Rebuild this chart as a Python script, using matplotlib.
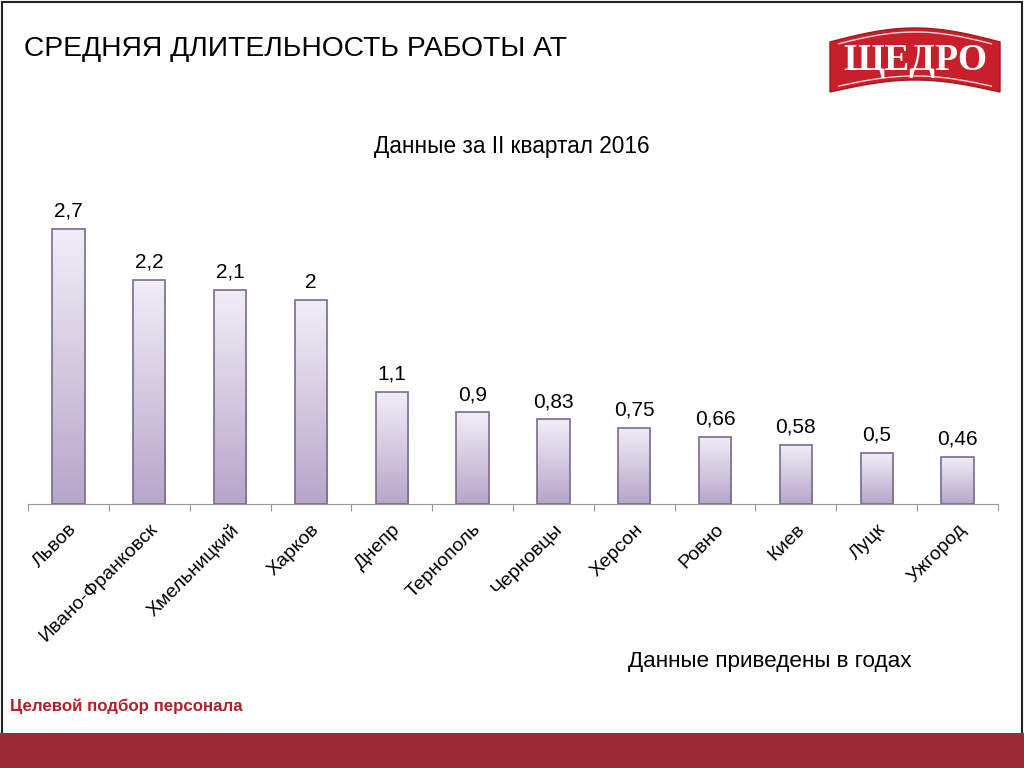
import numpy as np
import matplotlib.pyplot as plt
from matplotlib.patches import Rectangle, Polygon
from matplotlib.colors import LinearSegmentedColormap

plt.rcParams['font.family'] = ['Liberation Sans', 'DejaVu Sans']

cities = ['Львов', 'Ивано-Франковск', 'Хмельницкий', 'Харков', 'Днепр', 'Тернополь',
          'Черновцы', 'Херсон', 'Ровно', 'Киев', 'Луцк', 'Ужгород']
values = [2.7, 2.2, 2.1, 2.0, 1.1, 0.9, 0.83, 0.75, 0.66, 0.58, 0.5, 0.46]
labels = ['2,7', '2,2', '2,1', '2', '1,1', '0,9', '0,83', '0,75', '0,66', '0,58', '0,5', '0,46']

fig = plt.figure(figsize=(10.24, 7.68), dpi=100)
fig.patch.set_facecolor('white')

# slide frame and bottom band
fig.add_artist(Rectangle((0.002, 0.0), 0.996, 0.998, transform=fig.transFigure,
                         fill=False, edgecolor='#222222', linewidth=1.5))
fig.add_artist(Rectangle((0, 0), 1, 35 / 768, transform=fig.transFigure,
                         facecolor='#9c2935', edgecolor='none'))

fig.text(24 / 1024, 1 - 49 / 768, 'СРЕДНЯЯ ДЛИТЕЛЬНОСТЬ РАБОТЫ АТ', fontsize=20.3,
         va='center', ha='left', color='black')
fig.text(512 / 1024, 1 - 147 / 768, 'Данные за II квартал 2016', fontsize=16.3,
         va='center', ha='center')
fig.text(770 / 1024, 1 - 662 / 768, 'Данные приведены в годах', fontsize=16.2,
         va='center', ha='center')
fig.text(10 / 1024, 1 - 706 / 768, 'Целевой подбор персонала', fontsize=12.2,
         fontweight='bold', color='#b3202a', va='center', ha='left')

# logo
t = np.linspace(0, 1, 60)
lx0, lx1 = 830 / 1024, 1000 / 1024
xs = lx0 + (lx1 - lx0) * t
top = 1 - (42 - 14 * np.sin(np.pi * t)) / 768
bot = 1 - (92 - 12 * np.sin(np.pi * t)) / 768
fig.add_artist(Polygon(np.column_stack([np.r_[xs, xs[::-1]], np.r_[top, bot[::-1]]]),
                       closed=True, transform=fig.transFigure, facecolor='#c8202b',
                       edgecolor='#a01820', linewidth=1))
fig.add_artist(plt.Line2D(xs[3:-3], top[3:-3] - 4 / 768, transform=fig.transFigure,
                          color='#f3d6d6', linewidth=1))
fig.add_artist(plt.Line2D(xs[3:-3], bot[3:-3] + 4 / 768, transform=fig.transFigure,
                          color='#f3d6d6', linewidth=1))
fig.text(915 / 1024, 1 - 60 / 768, 'ЩЕДРО', fontsize=27, fontweight='bold',
         family='Liberation Serif', color='white', ha='center', va='center')

ax = fig.add_axes([28 / 1024, 264 / 768, 970 / 1024, 306 / 768])

cmap = LinearSegmentedColormap.from_list('g', ['#b6a6ca', '#f1eef6'])
grad = np.linspace(0, 1, 256).reshape(-1, 1)
bars = ax.bar(range(len(cities)), values, width=0.4, color='none',
              edgecolor='#7b6a93', linewidth=1.2, zorder=3)
for b in bars:
    x0, w, h = b.get_x(), b.get_width(), b.get_height()
    im = ax.imshow(grad, extent=[x0, x0 + w, 0, h], origin='lower', cmap=cmap,
                   aspect='auto', zorder=2)
    im.set_clip_path(b)
ax.set_xlim(-0.5, len(cities) - 0.5)
ax.set_ylim(0, 3.0)

for i, (v, s) in enumerate(zip(values, labels)):
    ax.text(i, v + 0.08, s, ha='center', va='bottom', fontsize=15)

for sp in ['top', 'right', 'left']:
    ax.spines[sp].set_visible(False)
ax.spines['bottom'].set_color('#999999')
ax.set_yticks([])
ax.set_xticks(np.arange(-0.5, len(cities), 1))
ax.set_xticklabels([])
ax.tick_params(axis='x', length=5, color='#999999', direction='out')
ax.set_xticks(range(len(cities)), minor=True)
ax.set_xticklabels(cities, minor=True, rotation=45, ha='right', va='top',
                   rotation_mode='anchor', fontsize=14)
ax.tick_params(axis='x', which='minor', length=0, pad=12)

fig.savefig('out.png', dpi=100)
